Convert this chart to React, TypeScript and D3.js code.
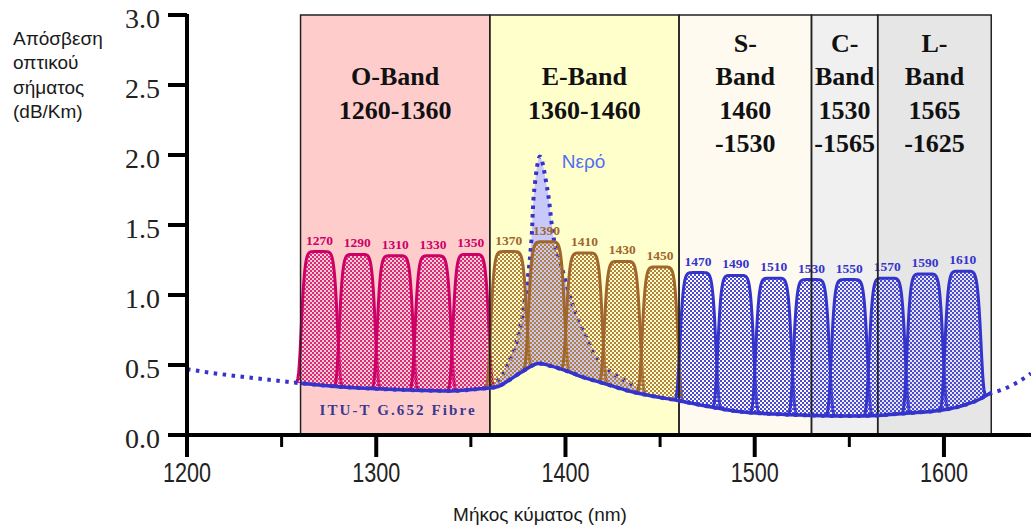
import React from 'react';
import * as d3 from 'd3';

const W = 1031;
const H = 529;

// Spectral bands
const bandStarts = [1260, 1360, 1460, 1530, 1565];
const bandEnds = [1360, 1460, 1530, 1565, 1625];
const bandFills = ['#ffcccc', '#ffffcc', '#fffaf0', '#f0f0f0', '#e6e6e6'];
const bandLabels = [
  ['O-Band', '1260-1360'],
  ['E-Band', '1360-1460'],
  ['S-', 'Band', '1460', '-1530'],
  ['C-', 'Band', '1530', '-1565'],
  ['L-', 'Band', '1565', '-1625'],
];

// CWDM channels: centre wavelength (nm) and peak level (dB/Km)
const channelNm = [1270, 1290, 1310, 1330, 1350, 1370, 1390, 1410, 1430, 1450, 1470, 1490, 1510, 1530, 1550, 1570, 1590, 1610];
const channelPeak = [1.31, 1.29, 1.28, 1.28, 1.29, 1.31, 1.38, 1.30, 1.24, 1.20, 1.16, 1.14, 1.12, 1.11, 1.11, 1.12, 1.15, 1.17];
const groupStroke = ['#cc0066', '#a0662c', '#3434cc'];
const groupCell = ['#d82a80', '#b4823f', '#4a4ad6'];

// ITU-T G.652 attenuation curve
const fibreNm = [1200, 1215, 1233, 1250, 1260, 1280, 1300, 1320, 1340, 1355, 1364, 1370, 1378, 1386, 1393, 1400, 1410, 1420, 1432, 1445, 1460, 1475, 1490, 1510, 1530, 1550, 1565, 1580, 1600, 1610, 1618, 1625, 1630, 1638, 1646];
const fibreDb = [0.47, 0.44, 0.41, 0.385, 0.37, 0.345, 0.33, 0.32, 0.315, 0.33, 0.345, 0.39, 0.46, 0.51, 0.49, 0.46, 0.41, 0.37, 0.32, 0.28, 0.245, 0.205, 0.17, 0.15, 0.14, 0.135, 0.14, 0.155, 0.18, 0.21, 0.25, 0.30, 0.32, 0.37, 0.44];

// Water absorption peak
const waterNm = [1360, 1365, 1369, 1374, 1377, 1380, 1382, 1383.5, 1386.5, 1390.5, 1394, 1398, 1404, 1411, 1417, 1425, 1434, 1442];
const waterDb = [0.35, 0.40, 0.49, 0.66, 0.84, 1.11, 1.39, 1.75, 1.99, 1.75, 1.39, 1.20, 0.92, 0.70, 0.54, 0.44, 0.37, 0.30];

const xMajor = [1200, 1300, 1400, 1500, 1600];
const xMinor = [1250, 1350, 1450, 1550];
const yTicks = [0, 0.5, 1.0, 1.5, 2.0, 2.5, 3.0];
const yTitle = ['Απόσβεση', 'οπτικού', 'σήματος', '(dB/Km)'];

const serif = "'Liberation Serif', 'Times New Roman', serif";
const sans = "'Liberation Sans', Arial, sans-serif";

type Pt = [number, number];

export default function App() {
  const x = d3.scaleLinear().domain([1200, 1646]).range([187, 1031]);
  const y = d3.scaleLinear().domain([0, 3]).range([435, 15]);

  const fibre: Pt[] = fibreNm.map((n, i) => [n, fibreDb[i]]);
  const water: Pt[] = waterNm.map((n, i) => [n, waterDb[i]]);

  const baseAt = (nm: number) => {
    const i = d3.bisectRight(fibreNm, nm);
    if (i <= 0) return fibreDb[0];
    if (i >= fibreNm.length) return fibreDb[fibreDb.length - 1];
    const t = (nm - fibreNm[i - 1]) / (fibreNm[i] - fibreNm[i - 1]);
    return fibreDb[i - 1] + t * (fibreDb[i] - fibreDb[i - 1]);
  };

  const fibreLine = d3.line<Pt>().x(d => x(d[0])).y(d => y(d[1])).curve(d3.curveMonotoneX);
  const aboveFibre = d3.area<Pt>().x(d => x(d[0])).y0(0).y1(d => y(d[1])).curve(d3.curveMonotoneX);
  const waterLine = d3.line<Pt>().x(d => x(d[0])).y(d => y(d[1])).curve(d3.curveCatmullRom.alpha(0.5));

  const waterPath = waterLine(water) as string;
  const waterFill = `${waterPath}L${x(1442)},${y(0)}L${x(1360)},${y(0)}Z`;

  // Flat-topped filter passband sitting on the fibre curve
  const channelPath = (c: number, peak: number) => {
    const pts: Pt[] = [];
    for (let d = -13; d <= 13.0001; d += 0.2) {
      const nm = c + d;
      const b = baseAt(nm);
      const f = Math.exp(-Math.pow(Math.abs(d) / 9.8, 8));
      pts.push([nm, b + (peak - b) * f]);
    }
    const top = d3.line<Pt>().x(p => x(p[0])).y(p => y(p[1]))(pts) as string;
    return `${top}L${x(c + 13)},${y(0) + 5}L${x(c - 13)},${y(0) + 5}Z`;
  };
  const groupOf = (c: number) => (c < 1360 ? 0 : c < 1460 ? 1 : 2);

  return (
    <svg width={W} height={H} style={{ position: 'absolute', left: 0, top: 0, background: '#fff' }}>
      <defs>
        {groupCell.map((col, i) => (
          <pattern key={i} id={`dither-${i}`} width={4} height={4} patternUnits="userSpaceOnUse">
            <rect x={0} y={0} width={2} height={2} fill={col} />
            <rect x={2} y={2} width={2} height={2} fill={col} />
          </pattern>
        ))}
        <clipPath id="above-fibre">
          <path d={aboveFibre(fibre) as string} />
        </clipPath>
        <clipPath id="fibre-span">
          <rect x={x(1260)} y={0} width={x(1625) - x(1260)} height={H} />
        </clipPath>
      </defs>

      {/* band backgrounds */}
      {bandStarts.map((s, i) => (
        <rect key={i} x={x(s)} y={y(3)} width={x(bandEnds[i]) - x(s)} height={y(0) - y(3)} fill={bandFills[i]} />
      ))}

      {/* band names */}
      {bandLabels.map((lines, i) => {
        const cx = (x(bandStarts[i]) + x(bandEnds[i])) / 2;
        const offset = lines.length === 2 ? 1 : 0;
        return lines.map((t, j) => (
          <text key={`${i}-${j}`} x={cx} y={52 + (j + offset) * 33.3} textAnchor="middle"
            fontFamily={serif} fontWeight="bold" fontSize={26} fill="#111">{t}</text>
        ));
      })}

      {/* water peak */}
      <g clipPath="url(#above-fibre)">
        <path d={waterFill} fill="#c8c8fb" />
      </g>
      <path d={waterPath} fill="none" stroke="#3434cc" strokeWidth={4} strokeDasharray="3.5 5" />

      {/* channels */}
      <g clipPath="url(#above-fibre)">
        {channelNm.map((c, i) => {
          const g = groupOf(c);
          return (
            <path key={c} d={channelPath(c, channelPeak[i])} fill={`url(#dither-${g})`}
              stroke={groupStroke[g]} strokeWidth={3} strokeLinejoin="round" />
          );
        })}
      </g>
      {channelNm.map((c, i) => (
        <text key={c} x={x(c)} y={y(channelPeak[i]) - 7} textAnchor="middle" fontFamily={serif}
          fontWeight="bold" fontSize={13.5} fill={groupStroke[groupOf(c)]}>{c}</text>
      ))}

      {/* band borders */}
      {bandStarts.map((s, i) => (
        <rect key={i} x={x(s)} y={y(3)} width={x(bandEnds[i]) - x(s)} height={y(0) - y(3)}
          fill="none" stroke="#222" strokeWidth={1.5} />
      ))}

      {/* fibre attenuation: dotted outside the band range, solid inside */}
      <path d={fibreLine(fibre) as string} fill="none" stroke="#3434cc" strokeWidth={4} strokeDasharray="3.5 5.5" />
      <g clipPath="url(#fibre-span)">
        <path d={fibreLine(fibre) as string} fill="none" stroke="#3434cc" strokeWidth={3.5} />
      </g>
      <text x={x(1270)} y={415} fontFamily={serif} fontWeight="bold" fontSize={15} letterSpacing={2.1}
        fill="#3a3a90">ITU-T G.652 Fibre</text>
      <text x={x(1398)} y={168} fontFamily={sans} fontSize={19} fill="#4f6ff0">Νερό</text>

      {/* axes */}
      <line x1={x(1200)} x2={W} y1={y(0)} y2={y(0)} stroke="#000" strokeWidth={4} />
      <line x1={x(1200)} x2={x(1200)} y1={y(3) - 1} y2={y(0) + 2} stroke="#000" strokeWidth={4} />
      {yTicks.map(t => (
        <g key={t}>
          <line x1={x(1200) - 19} x2={x(1200)} y1={y(t)} y2={y(t)} stroke="#000" strokeWidth={4} />
          <text x={x(1200) - 27} y={y(t) + 13} textAnchor="end" fontFamily={serif} fontSize={28} fill="#222">{t.toFixed(1)}</text>
        </g>
      ))}
      {xMajor.map(t => (
        <g key={t}>
          <line x1={x(t)} x2={x(t)} y1={y(0)} y2={y(0) + 22} stroke="#000" strokeWidth={4} />
          <text transform={`translate(${x(t)},482) scale(0.8,1)`} textAnchor="middle" fontFamily={sans}
            fontSize={27} fill="#222">{t}</text>
        </g>
      ))}
      {xMinor.map(t => (
        <line key={t} x1={x(t)} x2={x(t)} y1={y(0)} y2={y(0) + 12} stroke="#000" strokeWidth={3} />
      ))}

      {/* axis titles */}
      {yTitle.map((t, i) => (
        <text key={t} x={13} y={45 + i * 24.4} fontFamily={sans} fontSize={19} fill="#1a1a1a">{t}</text>
      ))}
      <text x={540} y={521} textAnchor="middle" fontFamily={sans} fontSize={19} fill="#1a1a1a">Μήκος κύματος (nm)</text>
    </svg>
  );
}
